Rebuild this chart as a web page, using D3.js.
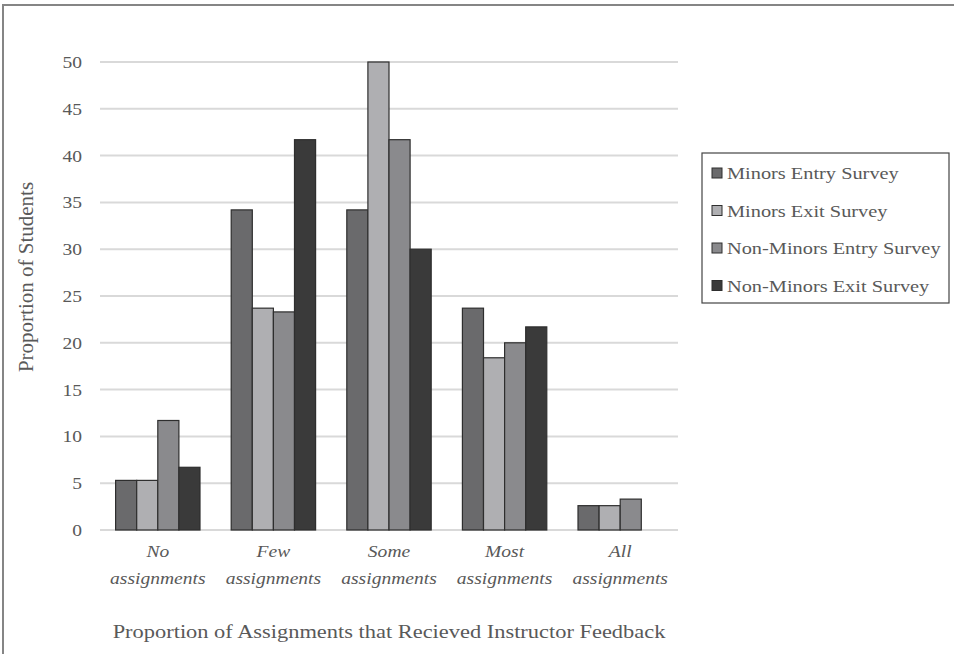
<!DOCTYPE html>
<html>
<head>
<meta charset="utf-8">
<script src="https://cdn.jsdelivr.net/npm/d3@7"></script>
<style>
  html, body { margin: 0; padding: 0; background: #fff; }
  svg { display: block; }
  text { font-family: "Liberation Serif", "Times New Roman", serif; fill: #595959; }
</style>
</head>
<body>
<svg id="chart" width="954" height="654"></svg>
<script>
const categories = ["No assignments", "Few assignments", "Some assignments", "Most assignments", "All assignments"];
const categoryLines = [["No", "assignments"], ["Few", "assignments"], ["Some", "assignments"], ["Most", "assignments"], ["All", "assignments"]];
const seriesNames = ["Minors Entry Survey", "Minors Exit Survey", "Non-Minors Entry Survey", "Non-Minors Exit Survey"];
const minorsEntry = [5.3, 34.2, 34.2, 23.7, 2.6];
const minorsExit = [5.3, 23.7, 50.0, 18.4, 2.6];
const nonMinorsEntry = [11.7, 23.3, 41.7, 20.0, 3.3];
const nonMinorsExit = [6.7, 41.7, 30.0, 21.7, 0];
const yTicks = [0, 5, 10, 15, 20, 25, 30, 35, 40, 45, 50];
const colors = ["#6a6a6c", "#afafb2", "#8a8a8d", "#3a3a3a"];

const seriesValues = [minorsEntry, minorsExit, nonMinorsEntry, nonMinorsExit];
const SX = 1.15; // horizontal stretch of text seen in the reference

const svg = d3.select("#chart");

// frame
svg.append("rect").attr("x", 3).attr("y", 5).attr("width", 1000).attr("height", 700)
  .attr("fill", "none").attr("stroke", "#858585").attr("stroke-width", 2);

const pLeft = 100, pRight = 678, pTop = 62, pBottom = 530;

const x = d3.scaleBand().domain(categories).range([pLeft, pRight]).paddingInner(0.27).paddingOuter(0.135);
const xs = d3.scaleBand().domain(seriesNames).range([0, x.bandwidth()]);
const y = d3.scaleLinear().domain([0, 50]).range([pBottom, pTop]);

// gridlines
svg.append("g").selectAll("line").data(yTicks).join("line")
  .attr("x1", pLeft).attr("x2", pRight)
  .attr("y1", d => y(d)).attr("y2", d => y(d))
  .attr("stroke", "#d9d9d9").attr("stroke-width", 2);

// y axis labels
const yAxis = d3.axisLeft(y).tickValues(yTicks).tickSize(0).tickPadding(18);
const yg = svg.append("g").attr("transform", `translate(${pLeft},0)`).call(yAxis);
yg.select(".domain").remove();
yg.selectAll("text")
  .style("font-size", "17px").style("font-family", "Liberation Serif, serif").attr("fill", "#595959")
  .attr("x", -18 / SX).attr("transform", `scale(${SX},1)`);

// bars
const groups = svg.append("g").selectAll("g").data(categories).join("g")
  .attr("transform", c => `translate(${x(c)},0)`);
groups.selectAll("rect").data((c, i) => seriesNames.map((s, j) => ({ s, j, v: seriesValues[j][i] })).filter(d => d.v > 0))
  .join("rect")
  .attr("x", d => xs(d.s))
  .attr("width", xs.bandwidth())
  .attr("y", d => y(d.v))
  .attr("height", d => y(0) - y(d.v))
  .attr("fill", d => colors[d.j])
  .attr("stroke", "#2e2e2e").attr("stroke-width", 1.2);

// x axis labels
const xAxis = d3.axisBottom(x).tickSize(0).tickFormat("");
const xg = svg.append("g").attr("transform", `translate(0,${pBottom})`).call(xAxis);
xg.select(".domain").remove();
xg.selectAll(".tick").each(function(c, i) {
  const t = d3.select(this).append("text")
    .attr("text-anchor", "middle").style("font-size", "17px").style("font-style", "italic")
    .attr("fill", "#595959").attr("transform", `scale(${SX},1)`);
  categoryLines[i].forEach((ln, k) => {
    t.append("tspan").attr("x", 0).attr("y", 27 + k * 27).text(ln);
  });
});

// axis titles
svg.append("text").attr("transform", `translate(${(pLeft + pRight) / 2},638) scale(${SX},1)`)
  .attr("text-anchor", "middle")
  .style("font-size", "19.5px").text("Proportion of Assignments that Recieved Instructor Feedback");
svg.append("text").attr("transform", "translate(33,277) rotate(-90)").attr("text-anchor", "middle")
  .style("font-size", "21px").text("Proportion of Students");

// legend
const lg = svg.append("g");
lg.append("rect").attr("x", 702).attr("y", 153).attr("width", 247).attr("height", 150)
  .attr("fill", "#fff").attr("stroke", "#444").attr("stroke-width", 1.2);
const items = lg.selectAll("g").data(seriesNames).join("g")
  .attr("transform", (d, i) => `translate(712,${173 + i * 37.5})`);
items.append("rect").attr("x", 0).attr("y", -5).attr("width", 10).attr("height", 10)
  .attr("fill", (d, i) => colors[i]).attr("stroke", "#2e2e2e").attr("stroke-width", 1);
items.append("text").attr("x", 15 / SX).attr("y", 0).attr("dy", "0.35em")
  .attr("transform", `scale(${SX},1)`)
  .style("font-size", "17.7px").text(d => d);
</script>
</body>
</html>
